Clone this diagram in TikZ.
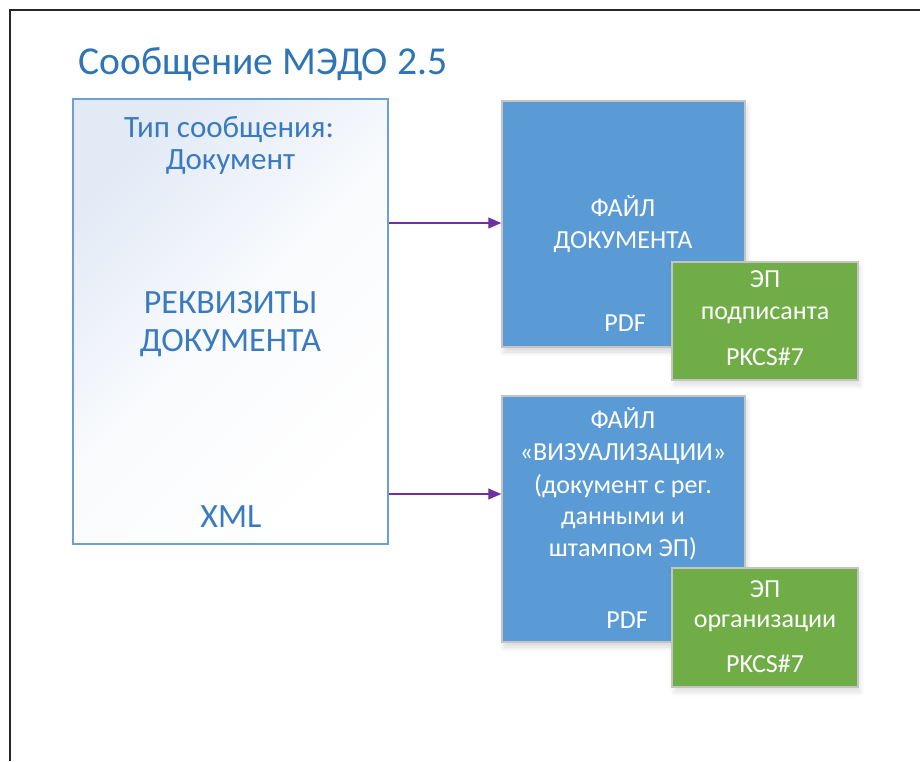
\documentclass[tikz,border=0pt]{standalone}
\usepackage{fontspec}
\setmainfont{Carlito}
\usetikzlibrary{arrows.meta,shadows.blur}
\definecolor{titleblue}{HTML}{2E75B6}
\definecolor{reqblue}{HTML}{3A7BBF}
\definecolor{reqedge}{HTML}{6C9FD2}
\definecolor{reqfill}{HTML}{E2EAF6}
\definecolor{fileblue}{HTML}{5B9BD5}
\definecolor{sigreen}{HTML}{70AD47}
\definecolor{boxedge}{HTML}{C4C4C4}
\definecolor{arrpurple}{HTML}{7030A0}
\tikzset{
  fsz/.style={font=\fontsize{#1}{#1}\selectfont},
  filebox/.style={draw=boxedge, line width=1.5pt, fill=fileblue, inner sep=0pt,
    blur shadow={shadow xshift=2pt, shadow yshift=-5pt, shadow blur radius=5pt, shadow opacity=15}},
  sigbox/.style={draw=boxedge, line width=1.5pt, fill=sigreen, inner sep=0pt,
    blur shadow={shadow xshift=2pt, shadow yshift=-5pt, shadow blur radius=5pt, shadow opacity=12}},
  reqbox/.style={draw=reqedge, line width=1.5pt, left color=reqfill, right color=white, middle color=white!80!reqfill, shading angle=45, inner sep=0pt},
  wtxt/.style={text=white, anchor=base, inner sep=0pt, fsz=26},
  btxt/.style={text=reqblue, anchor=base, inner sep=0pt},
  flow/.style={draw=arrpurple, line width=1.3pt, -{Triangle[length=13pt,width=11pt]}},
  frameline/.style={line width=2pt, draw=black!85}
}
\begin{document}
\begin{tikzpicture}[x=1pt,y=-1pt]
\useasboundingbox (0,0) rectangle (920,761);
\draw[frameline] (10,761) -- (10,10) -- (920,10);

\node[anchor=base west, text=titleblue, inner sep=0pt, fsz=39.6] (title) at (78,74) {Сообщение МЭДО 2.5};

% requisites box
\node[reqbox, minimum width=315pt, minimum height=445pt] (req) at (230.5,321.5) {};
\node[btxt, fsz=31] (req1) at (229,137) {Тип сообщения:};
\node[btxt, fsz=31] (req2) at (230.5,169) {Документ};
\node[btxt, fsz=34] (req3) at (230.5,313) {РЕКВИЗИТЫ};
\node[btxt, fsz=34] (req4) at (230.5,351) {ДОКУМЕНТА};
\node[btxt, fsz=34] (xml) at (231,527) {XML};

% file 1
\node[filebox, minimum width=243pt, minimum height=246pt] (f1) at (623.5,224) {};
\node[wtxt] (f1a) at (623,216) {ФАЙЛ};
\node[wtxt] (f1b) at (623,248) {ДОКУМЕНТА};
\node[wtxt] (f1p) at (625,331) {PDF};
\node[sigbox, minimum width=186pt, minimum height=118pt] (s1) at (765,321) {};
\node[wtxt] (s1a) at (765,287) {ЭП};
\node[wtxt] (s1b) at (765,319) {подписанта};
\node[wtxt] (s1c) at (765,365) {PKCS\#7};

% file 2
\node[filebox, minimum width=243pt, minimum height=246pt] (f2) at (623.5,519) {};
\node[wtxt] (f2a) at (623,428) {ФАЙЛ};
\node[wtxt] (f2b) at (623,460) {«ВИЗУАЛИЗАЦИИ»};
\node[wtxt] (f2c) at (623,493) {(документ с рег.};
\node[wtxt] (f2d) at (623,524) {данными и};
\node[wtxt] (f2e) at (623,556) {штампом ЭП)};
\node[wtxt] (f2p) at (627,628) {PDF};
\node[sigbox, minimum width=186pt, minimum height=119pt] (s2) at (765,627.5) {};
\node[wtxt] (s2a) at (765,597) {ЭП};
\node[wtxt] (s2b) at (765,627) {организации};
\node[wtxt] (s2c) at (765,672) {PKCS\#7};

% connectors
\draw[flow] ([yshift=1pt]req.east |- f1.west) -- ([yshift=1pt]f1.west);
\draw[flow] ([yshift=25pt]req.east |- f2.west) -- ([yshift=25pt]f2.west);
\end{tikzpicture}
\end{document}
